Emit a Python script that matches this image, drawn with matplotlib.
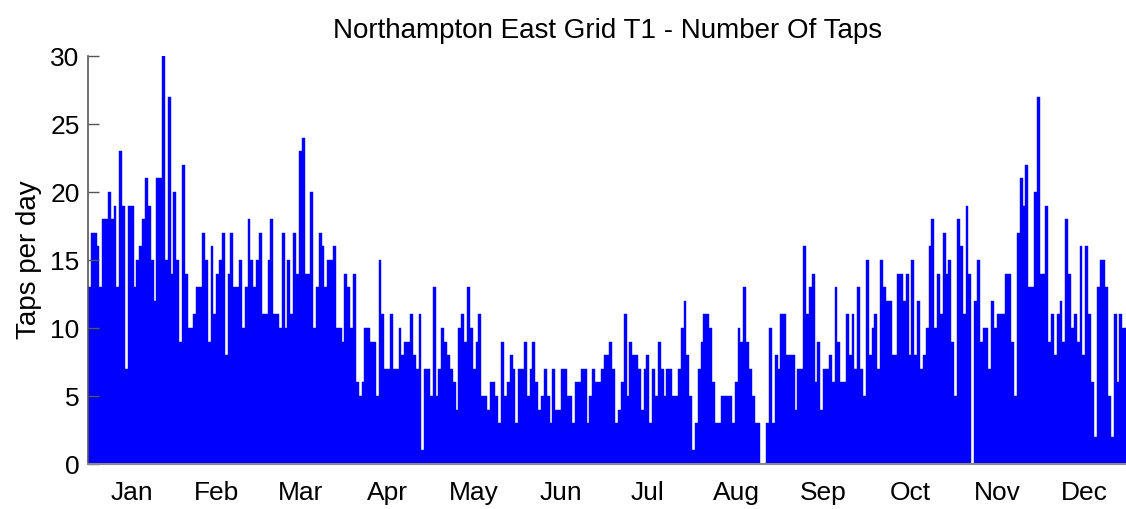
import matplotlib.pyplot as plt
import numpy as np

# daily number of taps, one list per month
jan = [13, 17, 17, 16, 13, 18, 18, 20, 18, 19, 13, 23, 19, 7, 19, 19, 13, 15, 16, 18, 21, 19, 15, 12, 21, 21, 30, 15, 27, 14, 20]
feb = [15, 9, 22, 14, 10, 10, 11, 13, 13, 17, 15, 9, 16, 11, 14, 15, 17, 8, 14, 17, 13, 13, 15, 10, 13, 18, 15, 13]
mar = [15, 17, 11, 11, 15, 18, 11, 11, 10, 17, 10, 15, 11, 17, 14, 23, 24, 14, 14, 20, 10, 13, 17, 16, 13, 15, 15, 16, 10, 10, 9]
apr = [14, 13, 10, 14, 6, 5, 6, 10, 10, 9, 9, 5, 15, 11, 7, 7, 11, 7, 7, 10, 8, 9, 9, 11, 8, 7, 11, 1, 7, 7]
may = [5, 13, 5, 7, 10, 9, 8, 7, 6, 4, 10, 11, 9, 13, 10, 7, 9, 11, 5, 5, 4, 6, 6, 5, 3, 9, 5, 6, 8, 7, 3]
jun = [7, 7, 9, 5, 7, 9, 6, 4, 5, 7, 5, 3, 7, 4, 4, 7, 7, 5, 5, 3, 6, 6, 7, 7, 3, 5, 7, 6, 6, 7]
jul = [8, 8, 9, 7, 3, 4, 6, 11, 5, 9, 8, 8, 7, 4, 7, 8, 3, 7, 5, 9, 7, 5, 7, 7, 5, 5, 7, 10, 12, 8, 5]
aug = [1, 3, 7, 9, 11, 11, 10, 6, 3, 3, 5, 5, 5, 5, 3, 6, 10, 9, 13, 9, 7, 5, 3, 3, 0, 0, 3, 10, 3, 8, 7]
sep = [11, 11, 8, 8, 8, 4, 7, 7, 16, 11, 13, 14, 6, 9, 4, 7, 7, 8, 6, 13, 9, 6, 6, 11, 8, 11, 7, 13, 7, 5]
oct_ = [15, 8, 10, 11, 7, 15, 13, 12, 12, 8, 8, 14, 14, 12, 14, 8, 15, 8, 12, 7, 8, 10, 16, 18, 10, 14, 11, 17, 14, 15, 9]
nov = [5, 18, 16, 11, 19, 14, 0, 12, 15, 9, 10, 10, 7, 12, 10, 11, 11, 11, 14, 14, 9, 5, 17, 21, 19, 22, 13, 13, 20, 27]
dec = [14, 14, 19, 9, 11, 8, 11, 12, 9, 18, 14, 10, 11, 9, 16, 8, 16, 11, 6, 2, 13, 15, 15, 13, 5, 2, 11, 6, 11, 10, 10]

months = ['Jan', 'Feb', 'Mar', 'Apr', 'May', 'Jun', 'Jul', 'Aug', 'Sep', 'Oct', 'Nov', 'Dec']
month_data = [jan, feb, mar, apr, may, jun, jul, aug, sep, oct_, nov, dec]

taps = np.concatenate(month_data)
days = np.arange(len(taps)) + 0.5

# month labels sit in the middle of each month
lengths = np.array([len(m) for m in month_data])
starts = np.concatenate([[0], np.cumsum(lengths)[:-1]])
mid = starts + lengths / 2.0

plt.rcParams['font.family'] = ['Liberation Sans', 'DejaVu Sans']

fig = plt.figure(figsize=(11.26, 5.09), dpi=100)
ax = fig.add_axes([88/1126, 45/509, 1040/1126, 408/509])

ax.bar(days, taps, width=1.0, color='#0000ff', edgecolor='#0000ff', linewidth=0.3)

ax.set_xlim(0, len(taps))
ax.set_ylim(0, 30)
ax.set_yticks(np.arange(0, 31, 5))
ax.set_xticks(mid)
ax.set_xticklabels(months)

ax.spines['top'].set_visible(False)
ax.spines['right'].set_visible(False)
ax.spines['left'].set_color('#555555')
ax.spines['bottom'].set_color('#888888')
ax.spines['left'].set_linewidth(1.2)
ax.spines['bottom'].set_linewidth(1.5)

ax.tick_params(axis='y', direction='in', length=8, width=1, color='#555555', labelsize=19, pad=6)
ax.tick_params(axis='x', length=0, labelsize=19, pad=12)

ax.set_ylabel('Taps per day', fontsize=20, labelpad=6)
ax.set_title('Northampton East Grid T1 - Number Of Taps', fontsize=20, pad=13)

fig.savefig('out.png', dpi=100)
